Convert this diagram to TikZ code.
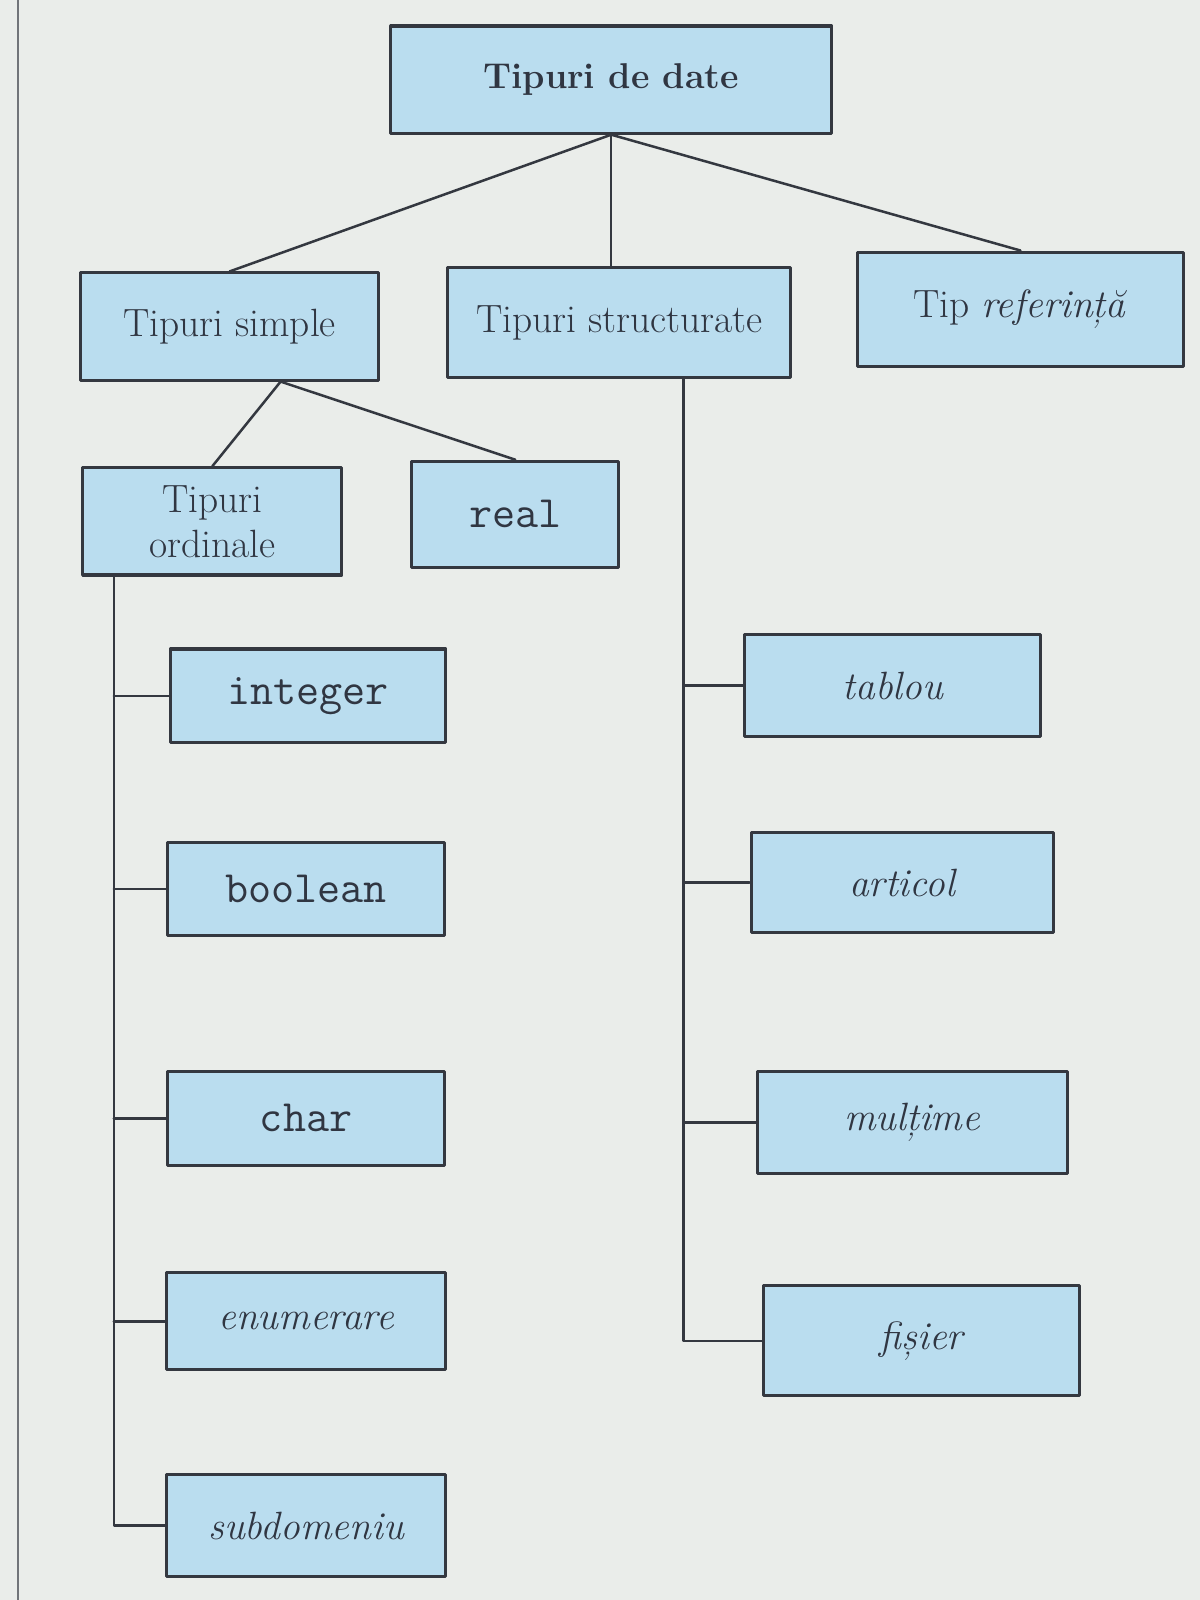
\documentclass[tikz,border=0pt]{standalone}
\usepackage{fontspec}
\begin{document}
\begin{tikzpicture}[x=0.02cm, y=-0.02cm, line cap=round, line join=round]
	\tikzset{tipbox/.style={draw=boxline, fill=boxfill, line width=1.7pt, inner sep=0pt, align=center, text=ink, font=\fontsize{22}{25}\selectfont},
		codebox/.style={tipbox, font=\fontsize{25}{28}\selectfont\ttfamily},
		itbox/.style={tipbox, font=\fontsize{22}{25}\selectfont\itshape},
		link/.style={draw=boxline, line width=1.4pt}}
	\definecolor{boxfill}{RGB}{186,221,239}
	\definecolor{boxline}{RGB}{52,56,64}
	\definecolor{ink}{RGB}{48,54,66}
	\definecolor{paper}{RGB}{234,237,234}
	% page
	\fill[paper] (0,0) rectangle (1176,1568);
	\useasboundingbox (0,0) rectangle (1176,1568);
	\draw[boxline!70, line width=1pt] (18,0)--(18,1568);
	% top levels
	\node[tipbox, minimum width=432*0.02cm, minimum height=105*0.02cm, font=\fontsize{20}{24}\selectfont\bfseries] (date) at (599,78) {Tipuri de date};
	\node[tipbox, minimum width=292*0.02cm, minimum height=105*0.02cm] (simple) at (225,320) {Tipuri simple};
	\node[tipbox, minimum width=336*0.02cm, minimum height=108*0.02cm] (struct) at (607,316) {Tipuri structurate};
	\node[tipbox, minimum width=320*0.02cm, minimum height=112*0.02cm] (ref) at (1000,303) {Tip \textit{referință}};
	\node[tipbox, minimum width=254*0.02cm, minimum height=105*0.02cm] (ordin) at (208,511) {Tipuri\\ordinale};
	\node[codebox, minimum width=203*0.02cm, minimum height=104*0.02cm] (real) at (505,504) {real};
	% ordinal types
	\node[codebox, minimum width=270*0.02cm, minimum height=92*0.02cm] (integer) at (302,682) {integer};
	\node[codebox, minimum width=271*0.02cm, minimum height=91*0.02cm] (boolean) at (300,871) {boolean};
	\node[codebox, minimum width=272*0.02cm, minimum height=92*0.02cm] (char) at (300,1096) {char};
	\node[itbox, minimum width=273*0.02cm, minimum height=95*0.02cm] (enum) at (300,1295) {enumerare};
	\node[itbox, minimum width=274*0.02cm, minimum height=100*0.02cm] (subdom) at (300,1495) {subdomeniu};
	% structured types
	\node[itbox, minimum width=290*0.02cm, minimum height=100*0.02cm] (tablou) at (875,672) {tablou};
	\node[itbox, minimum width=296*0.02cm, minimum height=98*0.02cm] (articol) at (884,865) {articol};
	\node[itbox, minimum width=304*0.02cm, minimum height=100*0.02cm] (multime) at (894,1100) {mulțime};
	\node[itbox, minimum width=310*0.02cm, minimum height=108*0.02cm] (fisier) at (903,1314) {fișier};
	% links
	\draw[link] (simple.north)--(date.south)--(ref.north);
	\draw[link] (date.south)--(date.south |- struct.north);
	\coordinate (sfork) at ([xshift=1cm]simple.south);
	\draw[link] (ordin.north)--(sfork)--(real.north);
	\coordinate (otop) at ([xshift=0.64cm]ordin.south west);
	\draw[link] (otop) |- (subdom.west);
	\foreach \t in {integer, boolean, char, enum}
		\draw[link] (otop |- \t.west)--(\t.west);
	\coordinate (stop) at ([xshift=1.26cm]struct.south);
	\draw[link] (stop) |- (fisier.west);
	\foreach \t in {tablou, articol, multime}
		\draw[link] (stop |- \t.west)--(\t.west);
\end{tikzpicture}
\end{document}
